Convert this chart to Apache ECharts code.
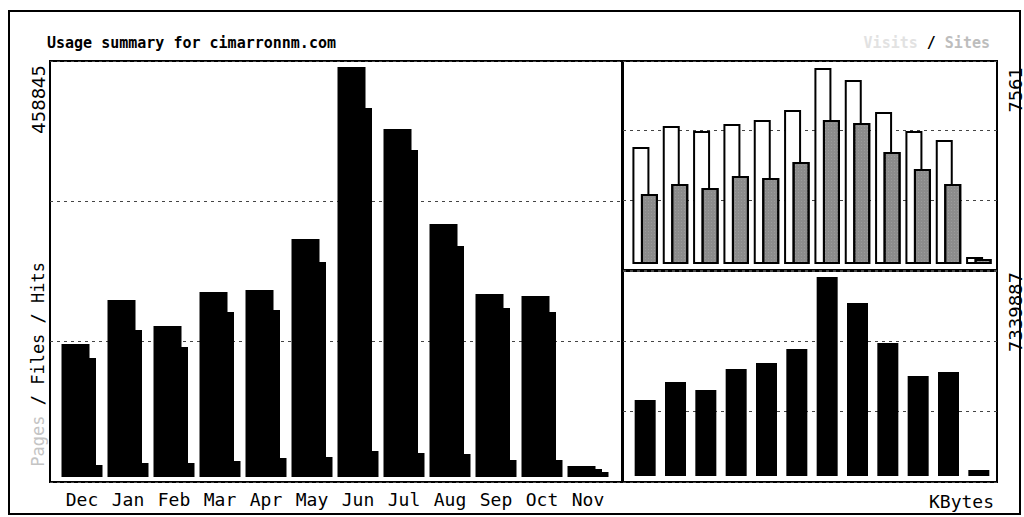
<!DOCTYPE html>
<html><head><meta charset="utf-8">
<script src="https://cdn.jsdelivr.net/npm/echarts@6/dist/echarts.min.js"></script>
<style>html,body{margin:0;padding:0;background:#fff}#c{width:1024px;height:517px}</style>
</head><body><div id="c"></div>
<script>
const titleText = 'Usage summary for cimarronnm.com';
const months = ['Dec','Jan','Feb','Mar','Apr','May','Jun','Jul','Aug','Sep','Oct','Nov'];
const hits   = [148840, 198090, 168990, 207040, 209280, 266350, 458845, 389460, 283140, 204800, 202570, 12310];
const files  = [133180, 164510, 145490, 184660, 186890, 240610, 412960, 365960, 258520, 189130, 184660, 8950];
const pages  = [13430, 15670, 15670, 17910, 21260, 22380, 29100, 26860, 25740, 19030, 19030, 5600];
const visits = [4514, 5324, 5131, 5401, 5556, 5941, 7561, 7099, 5864, 5131, 4784, 270];
const sites  = [2701, 3086, 2932, 3395, 3318, 3935, 5556, 5440, 4321, 3665, 3086, 190];
const kbytes = [2803200, 3467100, 3172000, 3946600, 4167900, 4684300, 7339887, 6380900, 4905600, 3688400, 3835900, 221300];
const maxHits = 458845, maxVisits = 7561, maxKBytes = 7339887;

const chart = echarts.init(document.getElementById('c'), null, {renderer: 'svg'});
const MONO = 'DejaVu Sans Mono';
const dashed = {show: true, lineStyle: {color: '#444', type: [3, 4], width: 1}};

function frameAxesX(i){ return {type:'value', gridIndex:i, min:0, max:1, show:false}; }
function frameAxesY(i){ return {type:'value', gridIndex:i, min:0, max:3, interval:1,
  axisLabel:{show:false}, axisLine:{show:false}, axisTick:{show:false}, splitLine: dashed}; }

const option = {
  animation: false,
  backgroundColor: '#fff',
  title: {text: titleText, left: 47, top: 35, padding: 0,
    textStyle: {fontFamily: MONO, fontWeight: 'bold', fontSize: 15, color: '#000'}},
  grid: [
    {left: 50, top: 61, width: 572, height: 421, show: true, borderColor: '#000', borderWidth: 2},
    {left: 623, top: 61, width: 374, height: 209, show: true, borderColor: '#000', borderWidth: 2},
    {left: 623, top: 271, width: 374, height: 211, show: true, borderColor: '#000', borderWidth: 2},
    {left: 59, top: 61, width: 552, height: 416},
    {left: 630, top: 61, width: 364, height: 203},
    {left: 630, top: 271, width: 364, height: 205}
  ],
  xAxis: [
    frameAxesX(0), frameAxesX(1), frameAxesX(2),
    {type:'category', gridIndex:3, data: months, axisLine:{show:false}, axisTick:{show:false},
      axisLabel:{fontFamily: MONO, fontSize: 18, color:'#000', margin: 13, interval: 0}},
    {type:'category', gridIndex:4, data: months, show:false},
    {type:'category', gridIndex:5, data: months, show:false}
  ],
  yAxis: [
    frameAxesY(0), frameAxesY(1), frameAxesY(2),
    {type:'value', gridIndex:3, min:0, max: Math.round(maxHits*416/410), show:false},
    {type:'value', gridIndex:4, min:0, max: Math.round(maxVisits*203/196), show:false},
    {type:'value', gridIndex:5, min:0, max: Math.round(maxKBytes*205/199), show:false}
  ],
  series: [
    {name:'Hits', type:'bar', xAxisIndex:3, yAxisIndex:3, data: hits, barWidth: 28, barGap: '-76.8%',
      itemStyle:{color:'#000'}},
    {name:'Files', type:'bar', xAxisIndex:3, yAxisIndex:3, data: files, barWidth: 28, barGap: '-76.8%',
      itemStyle:{color:'#000'}},
    {name:'Pages', type:'bar', xAxisIndex:3, yAxisIndex:3, data: pages, barWidth: 28, barGap: '-76.8%',
      itemStyle:{color:'#000'}},
    {name:'Visits', type:'bar', xAxisIndex:4, yAxisIndex:4, data: visits, barWidth: 17, barGap: '-50%',
      itemStyle:{color:'#fff', borderColor:'#000', borderWidth: 2}},
    {name:'Sites', type:'bar', xAxisIndex:4, yAxisIndex:4, data: sites, barWidth: 17, barGap: '-50%',
      itemStyle:{color:'#8c8c8c', borderColor:'#000', borderWidth: 2,
        decal:{symbol:'rect', symbolSize:0.5, color:'rgba(255,255,255,0.55)', dashArrayX:[1,2], dashArrayY:[1,2], rotation:0}}},
    {name:'KBytes', type:'bar', xAxisIndex:5, yAxisIndex:5, data: kbytes, barWidth: 21,
      itemStyle:{color:'#000'}}
  ],
  graphic: [
    {type:'rect', z:-10, shape:{x:9, y:11, width:1011, height:503}, style:{fill:null, stroke:'#000', lineWidth:2}},
    {type:'text', x:38, y:65, rotation: Math.PI/2,
      style:{text: String(maxHits), font:'18px "DejaVu Sans"', textAlign:'right', textVerticalAlign:'middle', fill:'#000'}},
    {type:'text', x:38, y:262, rotation: Math.PI/2,
      style:{text:'{p|Pages}{f| / Files / Hits}', font:'17px "DejaVu Sans Mono"', textAlign:'right', textVerticalAlign:'middle',
        rich:{p:{fill:'#c4c4c4', font:'17px "DejaVu Sans Mono"'}, f:{fill:'#000', font:'17px "DejaVu Sans Mono"'}}}},
    {type:'text', x:1015, y:67, rotation: Math.PI/2,
      style:{text: String(maxVisits), font:'18px "DejaVu Sans"', textAlign:'right', textVerticalAlign:'middle', fill:'#000'}},
    {type:'text', x:1015, y:272, rotation: Math.PI/2,
      style:{text: String(maxKBytes), font:'18px "DejaVu Sans"', textAlign:'right', textVerticalAlign:'middle', fill:'#000'}},
    {type:'text', x:990, y:43,
      style:{text:'{v|Visits}{s| /}{t| Sites}', font:'bold 15px "DejaVu Sans Mono"', textAlign:'right', textVerticalAlign:'middle',
        rich:{v:{fill:'#e2e2e2', font:'bold 15px "DejaVu Sans Mono"'}, s:{fill:'#000', font:'bold 15px "DejaVu Sans Mono"'}, t:{fill:'#bdbdbd', font:'bold 15px "DejaVu Sans Mono"'}}}},
    {type:'text', x:994, y:501,
      style:{text:'KBytes', font:'18px "DejaVu Sans Mono"', textAlign:'right', textVerticalAlign:'middle', fill:'#000'}}
  ]
};
chart.setOption(option);
</script>
</body></html>
